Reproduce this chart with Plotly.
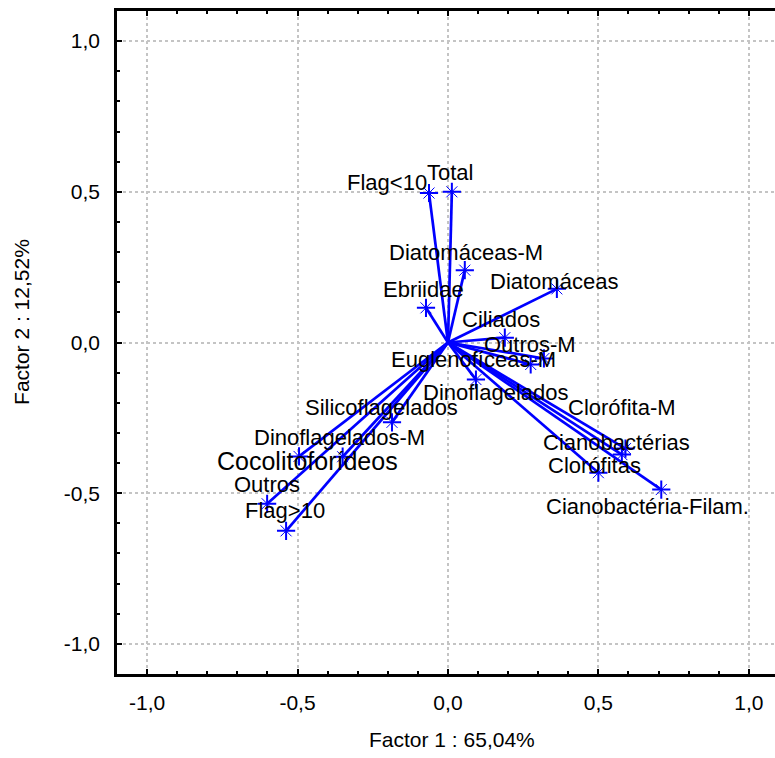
import plotly.graph_objects as go

# Factor loadings (Factor 1, Factor 2) for each plankton group
variables = [
    "Flag<10", "Total", "Diatomáceas-M", "Ebriidae", "Diatomáceas",
    "Ciliados", "Outros-M", "Euglenofíceas-M", "Dinoflagelados",
    "Silicoflagelados", "Clorófita-M", "Dinoflagelados-M", "Cianobactérias",
    "Cocolitoforídeos", "Clorófitas", "Outros", "Flag>10",
    "Cianobactéria-Filam.",
]
factor1 = [
    -0.063, 0.013, 0.056, -0.073, 0.362,
    0.189, 0.319, 0.275, 0.093,
    -0.186, 0.590, -0.495, 0.578,
    -0.350, 0.500, -0.601, -0.538,
    0.709,
]
factor2 = [
    0.496, 0.500, 0.240, 0.115, 0.178,
    0.016, -0.053, -0.073, -0.123,
    -0.265, -0.352, -0.378, -0.372,
    -0.379, -0.432, -0.535, -0.625,
    -0.488,
]

tick_values = [-1.0, -0.5, 0.0, 0.5, 1.0]
tick_labels = ["-1,0", "-0,5", "0,0", "0,5", "1,0"]

# Pixel offsets of each text label relative to its loading point
label_offsets = [
    (-42, 11), (-2, 19), (1, 18), (-2, 18), (-3, 7),
    (-4, 18), (-14, 14), (-57, 5), (20, -13),
    (-10, 15), (-3, 41), (40, 19), (-5, 12),
    (-35, -4), (-4, 7), (0, 19), (-1, 20),
    (-14, -17),
]
label_sizes = {"Cocolitoforídeos": 25}

x_title = "Factor 1 : 65,04%"
y_title = "Factor 2 : 12,52%"

BLUE = "#0000ff"
FONT = "Liberation Sans, Arial, sans-serif"

# Vectors from the origin to each loading
seg_x, seg_y = [], []
for fx, fy in zip(factor1, factor2):
    seg_x += [0, fx, None]
    seg_y += [0, fy, None]

fig = go.Figure()
fig.add_trace(go.Scatter(
    x=seg_x, y=seg_y, mode="lines",
    line=dict(color=BLUE, width=2.7),
    hoverinfo="skip", showlegend=False,
))
fig.add_trace(go.Scatter(
    x=factor1, y=factor2, mode="markers",
    marker=dict(symbol="cross-thin-open", size=13, color=BLUE,
                line=dict(color=BLUE, width=2)),
    text=variables, hoverinfo="text", showlegend=False,
))
fig.add_trace(go.Scatter(
    x=factor1, y=factor2, mode="markers",
    marker=dict(symbol="x-thin-open", size=11, color=BLUE,
                line=dict(color=BLUE, width=1)),
    hoverinfo="skip", showlegend=False,
))

for name, fx, fy, (dx, dy) in zip(variables, factor1, factor2, label_offsets):
    fig.add_annotation(
        x=fx, y=fy, xref="x", yref="y", text=name, showarrow=False,
        xshift=dx, yshift=dy, xanchor="center", yanchor="middle",
        font=dict(family=FONT, size=label_sizes.get(name, 22), color="black"),
    )

fig.add_annotation(
    x=0.509, y=-0.0995, xref="paper", yref="paper", text=x_title,
    showarrow=False, xanchor="center", yanchor="middle",
    font=dict(family=FONT, size=21, color="black"),
)
fig.add_annotation(
    x=-0.1444, y=0.531, xref="paper", yref="paper", text=y_title,
    showarrow=False, xanchor="center", yanchor="middle", textangle=-90,
    font=dict(family=FONT, size=21, color="black"),
)

axis_common = dict(
    tickmode="array", tickvals=tick_values, ticktext=tick_labels,
    ticks="inside", ticklen=5, tickwidth=2, tickcolor="black",
    showline=True, linecolor="black", linewidth=2.5,
    showgrid=True, gridcolor="#c4c4c4", griddash="dot", gridwidth=1.5,
    zeroline=False,
    tickfont=dict(family=FONT, size=21, color="black"),
    minor=dict(dtick=0.1, ticks="inside", ticklen=3, tickwidth=1.5,
               tickcolor="black", showgrid=False),
)

fig.update_layout(
    width=775, height=758,
    margin=dict(l=117, r=0, t=11, b=84),
    paper_bgcolor="white", plot_bgcolor="white",
    xaxis=dict(range=[-1.1, 1.087], mirror="ticks", ticklabelstandoff=8,
               **axis_common),
    yaxis=dict(range=[-1.1, 1.1], mirror=False, ticklabelstandoff=10,
               **axis_common),
    showlegend=False,
)

fig.write_html("out.html")
